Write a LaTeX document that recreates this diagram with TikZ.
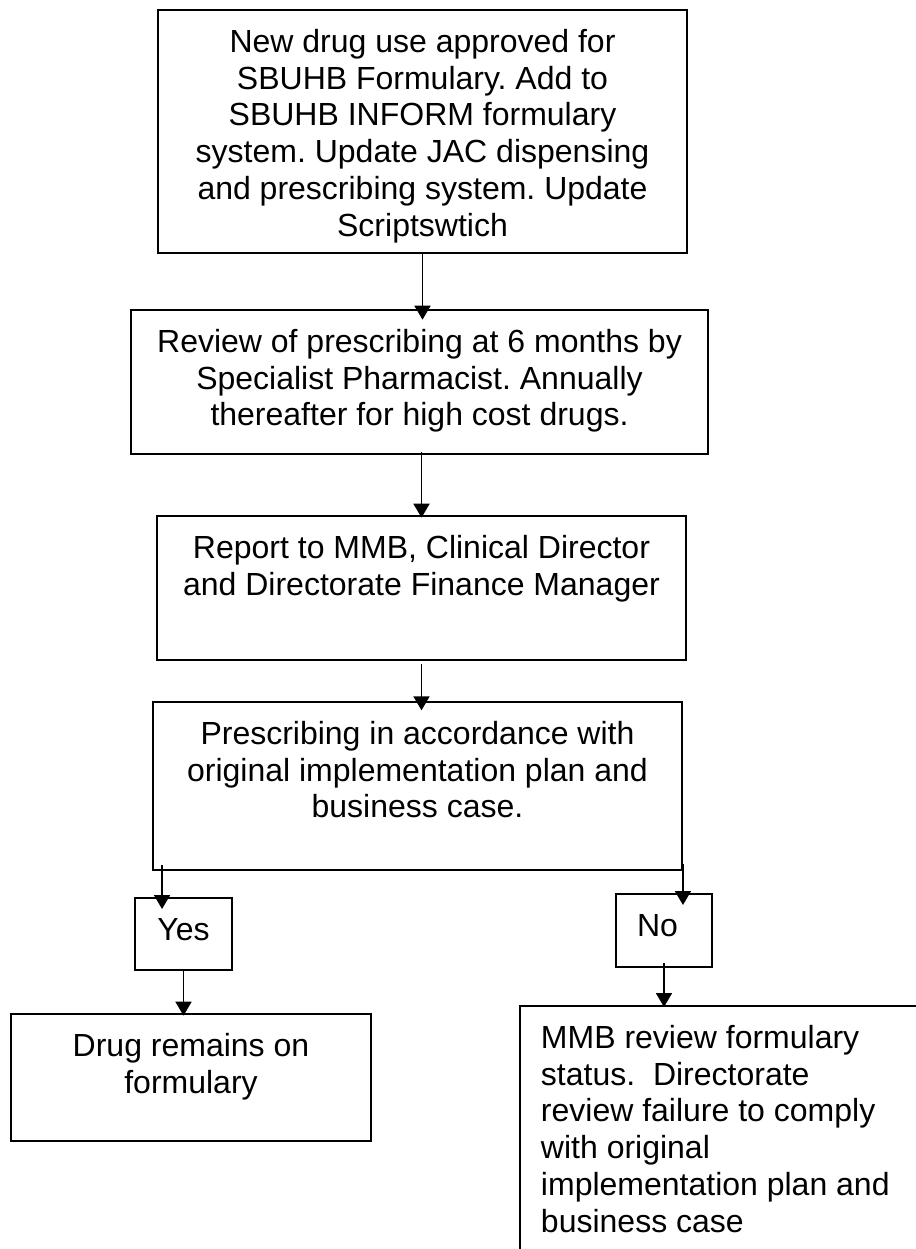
\documentclass[tikz,border=0pt]{standalone}
\usepackage{fontspec}
\setmainfont{Liberation Sans}
\usetikzlibrary{arrows.meta}
\frenchspacing

% box text: [alignment]{width}{height}{text}, set at the top of the box
\newcommand{\flowbox}[4][\centering]{\parbox[t][#3][t]{#2}{#1\vspace*{6.2pt}\strut#4}}

\begin{document}
\begin{tikzpicture}[x=0.375pt,y=0.375pt,yscale=-1,xscale=1,
  flowrect/.style={draw, line width=0.7pt, inner sep=0pt, anchor=north, font=\fontsize{12}{13.8}\selectfont},
  flow/.style={line width=0.7pt, -{Triangle[length=5.25pt,width=6pt]}}]
\useasboundingbox (0,0) rectangle (916,1249);
\clip (0,0) rectangle (916,1249);

%Shape: Rectangle [approval]
\node (approve) [flowrect] at (422.5,9) {\flowbox{198.4pt}{91.1pt}{New drug use approved for\\ SBUHB Formulary. Add to\\ SBUHB INFORM formulary\\ system. Update JAC dispensing\\ and prescribing system. Update\\ Scriptswtich}};
%Shape: Rectangle [review]
\node (review) [flowrect] at (419.5,309) {\flowbox{216.4pt}{54pt}{Review of prescribing at 6 months by\\ Specialist Pharmacist. Annually\\ thereafter for high cost drugs.}};
%Shape: Rectangle [report]
\node (report) [flowrect] at (421.5,515) {\flowbox{198.4pt}{54pt}{Report to MMB, Clinical Director\\ and Directorate Finance Manager}};
%Shape: Rectangle [plan check]
\node (comply) [flowrect] at (417.5,701) {\flowbox{198.4pt}{63pt}{Prescribing in accordance with\\ original implementation plan and\\ business case.}};
%Shape: Rectangle [yes / no]
\node (yes) [flowrect] at (183.5,897) {\flowbox{36.4pt}{27pt}{Yes}};
\node (no) [flowrect] at (664,893) {\flowbox[\raggedright\leftskip=7.9pt\relax]{36pt}{27.4pt}{No}};
%Shape: Rectangle [outcomes]
\node (remain) [flowrect] at (191,1013) {\flowbox{135pt}{47.6pt}{Drug remains on\\ formulary}};
\node (mmbrev) [flowrect, anchor=north west] at (519,1005) {\flowbox[\raggedright\leftskip=7.9pt\relax]{225pt}{150pt}{MMB review formulary\\ status.\ \ Directorate\\ review failure to comply\\ with original\\ implementation plan and\\ business case}};

% free ends on the decision box (yshift points down here)
\coordinate (yesfrom) at ([xshift=3.75pt,yshift=-2.25pt]comply.south west);
\coordinate (nofrom) at ([yshift=-2.6pt]comply.south east);

%Straight Lines
\draw [flow] (approve.south) -- ([yshift=4pt]approve.south |- review.north);
\draw [flow] ([yshift=-1pt]report.north |- review.south) -- ([yshift=1pt]report.north);
\draw [flow] ([yshift=1pt]report.south) -- ([yshift=3.5pt]report.south |- comply.north);
\draw [flow] (yesfrom) -- ([yshift=4.5pt]yesfrom |- yes.north);
\draw [flow] (nofrom) -- ([yshift=4.5pt]nofrom |- no.north);
\draw [flow] (yes.south) -- ([yshift=1pt]yes.south |- remain.north);
\draw [flow] ([yshift=-1.9pt]no.south) -- ([yshift=0.75pt]no.south |- mmbrev.north);

\end{tikzpicture}
\end{document}
